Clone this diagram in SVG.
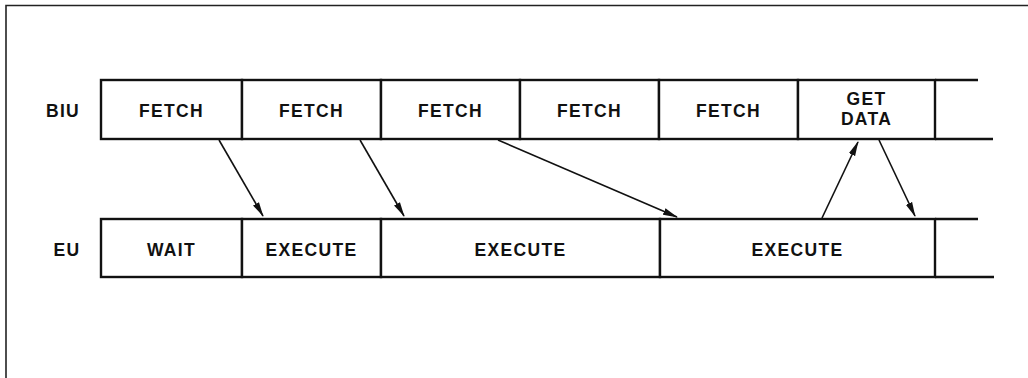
<svg xmlns="http://www.w3.org/2000/svg" width="1028" height="378" viewBox="0 0 1028 378">
<style>
.cell{fill:#fff;stroke:#111;stroke-width:2.4}
.ln{stroke:#111;stroke-width:2.6;fill:none}
.t{font-family:"Liberation Sans",Arial,sans-serif;font-size:17.5px;font-weight:bold;fill:#111;text-anchor:middle;letter-spacing:1.3px}
.c{stroke:#111;stroke-width:1.6;fill:none;marker-end:url(#ah)}
</style>
<defs>
<marker id="ah" viewBox="0 0 15 8" refX="14" refY="4" markerWidth="15" markerHeight="8" markerUnits="userSpaceOnUse" orient="auto">
<path d="M0,0.6 L15,4 L0,7.4 Z" fill="#111"/>
</marker>
</defs>
<rect width="1028" height="378" fill="#fff"/>
<g id="frame">
<path d="M6,378 L6,5.5 L1028,5.5" stroke="#222" stroke-width="1.6" fill="none"/>
</g>
<g id="labels">
<text class="t" x="63" y="117">BIU</text>
<text class="t" x="67" y="256">EU</text>
</g>
<g id="biu-fetch-1"><rect class="cell" x="101" y="80" width="141" height="59"/><text class="t" x="171.5" y="117">FETCH</text></g>
<g id="biu-fetch-2"><rect class="cell" x="242" y="80" width="139" height="59"/><text class="t" x="311.5" y="117">FETCH</text></g>
<g id="biu-fetch-3"><rect class="cell" x="381" y="80" width="139" height="59"/><text class="t" x="450.5" y="117">FETCH</text></g>
<g id="biu-fetch-4"><rect class="cell" x="520" y="80" width="139" height="59"/><text class="t" x="589.5" y="117">FETCH</text></g>
<g id="biu-fetch-5"><rect class="cell" x="659" y="80" width="139" height="59"/><text class="t" x="728.5" y="117">FETCH</text></g>
<g id="biu-getdata"><rect class="cell" x="798" y="80" width="137" height="59"/><text class="t" x="866.5" y="105">GET</text><text class="t" x="866.5" y="124.5">DATA</text></g>
<g id="biu-tail"><path class="ln" d="M935,80 L978,80 M935,139 L993,139"/></g>
<g id="eu-wait"><rect class="cell" x="101" y="219" width="141" height="58"/><text class="t" x="171.5" y="256">WAIT</text></g>
<g id="eu-execute-1"><rect class="cell" x="242" y="219" width="139" height="58"/><text class="t" x="311.5" y="256">EXECUTE</text></g>
<g id="eu-execute-2"><rect class="cell" x="381" y="219" width="279" height="58"/><text class="t" x="520.5" y="256">EXECUTE</text></g>
<g id="eu-execute-3"><rect class="cell" x="660" y="219" width="275" height="58"/><text class="t" x="797.5" y="256">EXECUTE</text></g>
<g id="eu-tail"><path class="ln" d="M935,219 L978,219 M935,277 L994,277"/></g>
<g id="connectors">
<line class="c" x1="219" y1="140" x2="263" y2="216"/>
<line class="c" x1="360" y1="140" x2="404" y2="216"/>
<line class="c" x1="498" y1="140" x2="677" y2="217"/>
<line class="c" x1="822" y1="218" x2="858" y2="142"/>
<line class="c" x1="879" y1="140" x2="915" y2="216"/>
</g>
</svg>
